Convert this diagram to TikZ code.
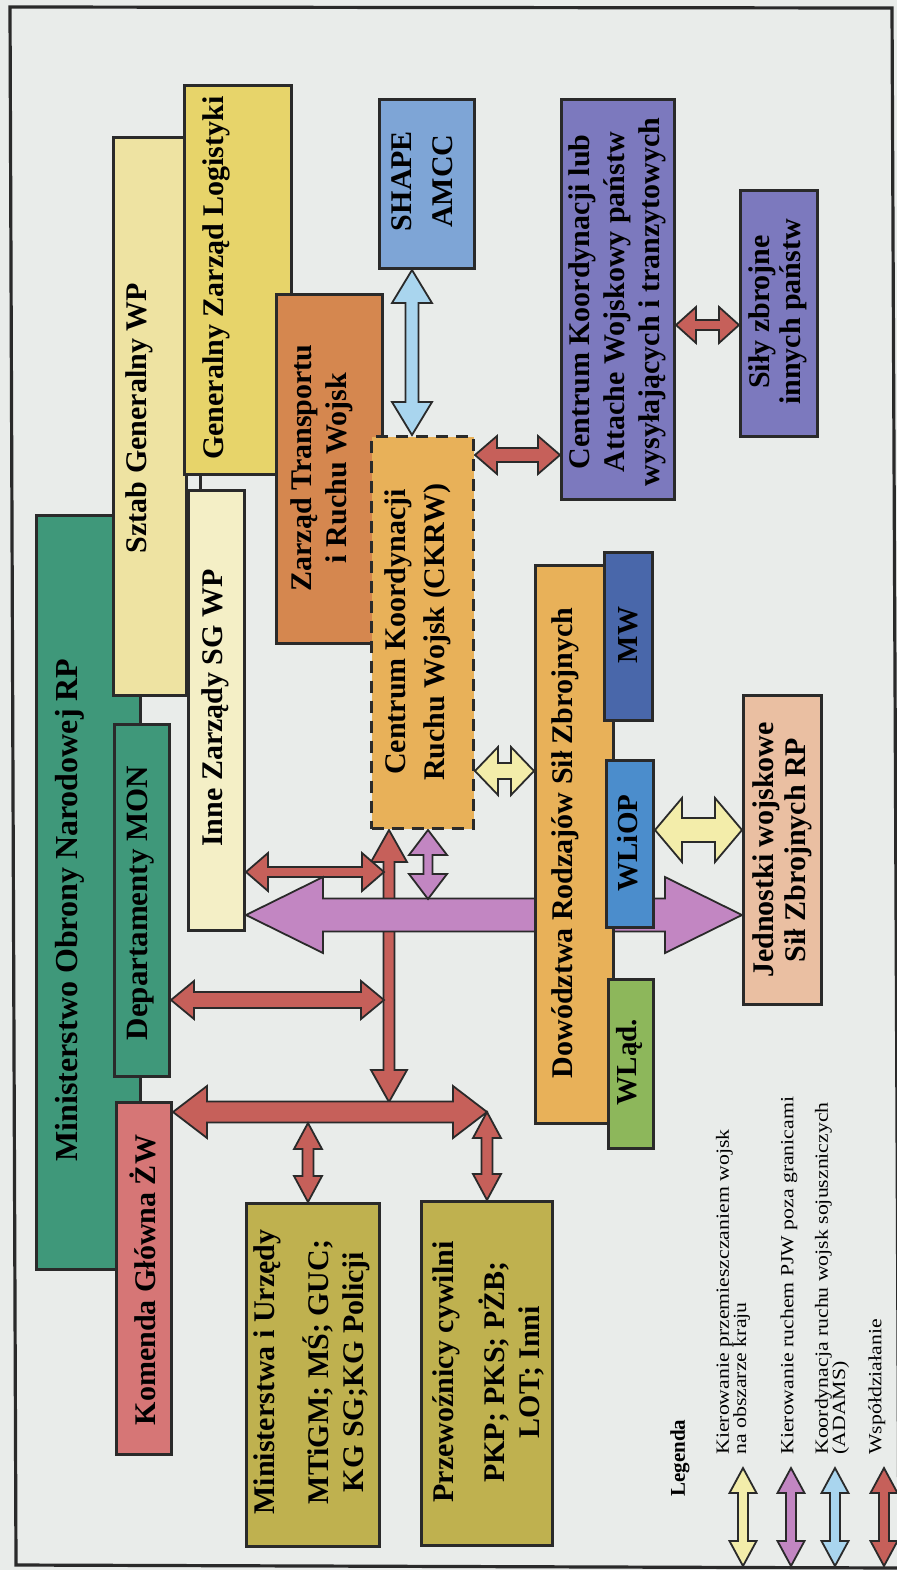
\documentclass[tikz,border=0pt]{standalone}
\usepackage{fontspec}
\setmainfont{Liberation Serif}
\newfontfamily\legendfont[FakeStretch=1.17]{Liberation Serif}
\usetikzlibrary{calc,backgrounds}
\definecolor{paper}{HTML}{E9ECEA}
\definecolor{ink}{HTML}{2A2A2A}
\definecolor{mongreen}{HTML}{3F987A}
\definecolor{kgzwpink}{HTML}{D67676}
\definecolor{sztabyel}{HTML}{EEE3A2}
\definecolor{gzlyel}{HTML}{E7D46A}
\definecolor{innecream}{HTML}{F4EFC6}
\definecolor{ztrorange}{HTML}{D5874F}
\definecolor{ckrworange}{HTML}{E8B159}
\definecolor{shapeblue}{HTML}{7EA5D6}
\definecolor{attpurple}{HTML}{7C79BE}
\definecolor{mwblue}{HTML}{4967AA}
\definecolor{wliopblue}{HTML}{4B8DCC}
\definecolor{wladgreen}{HTML}{8DB75B}
\definecolor{jedpeach}{HTML}{EABFA2}
\definecolor{minolive}{HTML}{BFB14F}
\definecolor{redar}{HTML}{C6605A}
\definecolor{purplear}{HTML}{C286C2}
\definecolor{yellowar}{HTML}{F3EDAA}
\definecolor{bluear}{HTML}{A9D5EE}
\tikzset{
  box/.style={
    rectangle, draw=ink, fill=#1, line width=1.5pt,
    inner sep=0pt, anchor=north west
  },
  boxtext/.style={
    rotate=90, align=center, inner sep=0pt, text=black,
    font=\bfseries\fontsize{15}{#1}\selectfont
  },
  boxtext/.default=17.5,
  legtext/.style={
    rotate=90, align=left, anchor=west, inner sep=0pt,
    font=\legendfont\fontsize{9.3}{8.6}\selectfont
  },
  % fill colour, shaft half width, head half width, head length
  blockarrow/.style n args={4}{
    fill=#1, draw=ink, line width=0.9pt,
    to path={
      let \p1=(\tikztostart), \p2=(\tikztotarget),
          \n1={veclen(\x2-\x1,\y2-\y1)},
          \n2={(\x2-\x1)/\n1}, \n3={(\y2-\y1)/\n1}
      in (\p1)
      -- ({\x1+#4*(\n2)-#3*(\n3)},{\y1+#4*(\n3)+#3*(\n2)})
      -- ({\x1+#4*(\n2)-#2*(\n3)},{\y1+#4*(\n3)+#2*(\n2)})
      -- ({\x2-#4*(\n2)-#2*(\n3)},{\y2-#4*(\n3)+#2*(\n2)})
      -- ({\x2-#4*(\n2)-#3*(\n3)},{\y2-#4*(\n3)+#3*(\n2)})
      -- (\p2)
      -- ({\x2-#4*(\n2)+#3*(\n3)},{\y2-#4*(\n3)-#3*(\n2)})
      -- ({\x2-#4*(\n2)+#2*(\n3)},{\y2-#4*(\n3)-#2*(\n2)})
      -- ({\x1+#4*(\n2)+#2*(\n3)},{\y1+#4*(\n3)-#2*(\n2)})
      -- ({\x1+#4*(\n2)+#3*(\n3)},{\y1+#4*(\n3)-#3*(\n2)})
      -- cycle
    }
  },
}
\begin{document}
\begin{tikzpicture}[x=0.5pt, y=-0.5pt]
  \useasboundingbox (0,0) rectangle (897,1570);
  \begin{scope}[on background layer]
    \fill[paper] (0,0) rectangle (897,1570);
  \end{scope}
  % Frame (slightly skewed, as scanned)
  \draw[ink, line width=1.6pt] (10,7) -- (892,8) -- (899,1568) -- (16,1565) -- cycle;

  % Ministry and General Staff
  \node[box=mongreen, minimum width=52pt, minimum height=377pt] (mon) at (35,514) {};
  \node[box=sztabyel, minimum width=36.5pt, minimum height=279pt] (sztab) at (112,136) {};
  \node[box=gzlyel, minimum width=53.5pt, minimum height=194.5pt] (gzl) at (183,84) {};
  \node[box=innecream, minimum width=28pt, minimum height=220pt] (inne) at (187,489) {};
  \node[box=mongreen, minimum width=27.5pt, minimum height=176pt] (dep) at (113,723) {};
  \node[box=kgzwpink, minimum width=27.5pt, minimum height=176pt] (kgzw) at (115,1101) {};
  \coordinate (stub) at (200,0);
  \draw[ink, line width=1.5pt] (gzl.south -| stub) -- (inne.north -| stub);

  % Coordination centres
  \node[box=ztrorange, minimum width=53pt, minimum height=174.5pt] (ztr) at (275,293) {};
  \node[box=ckrworange, dash pattern=on 6pt off 4pt, minimum width=51pt, minimum height=196pt] (ckrw) at (370,435) {};
  \node[box=shapeblue, minimum width=47.5pt, minimum height=84.5pt] (shape) at (378,98) {};
  \node[box=attpurple, minimum width=56.5pt, minimum height=200pt] (att) at (560,98) {};
  \node[box=attpurple, minimum width=38.5pt, minimum height=123pt] (sily) at (739,189) {};

  % Branches
  \node[box=ckrworange, minimum width=39pt, minimum height=279pt] (dow) at (534,564) {};
  \node[box=mwblue, minimum width=24pt, minimum height=84pt] (mw) at (603,551) {};
  \node[box=wliopblue, minimum width=23.5pt, minimum height=83.5pt] (wliop) at (605,759) {};
  \node[box=wladgreen, minimum width=22.5pt, minimum height=84.5pt] (wlad) at (607,978) {};
  \node[box=jedpeach, minimum width=39pt, minimum height=154.5pt] (jed) at (742,694) {};

  % Civil partners
  \node[box=minolive, minimum width=66.5pt, minimum height=171.5pt] (min) at (245,1202) {};
  \node[box=minolive, minimum width=65.5pt, minimum height=172pt] (prz) at (420,1200) {};

  % Labels
  \node[boxtext, font=\bfseries\fontsize{16}{19}\selectfont] (monT) at (70,910) {Ministerstwo Obrony Narodowej RP};
  \node[boxtext, font=\bfseries\fontsize{15.5}{18}\selectfont] (depT) at (141,903) {Departamenty MON};
  \node[boxtext] (kgzwT) at (143,1280) {Komenda Główna ŻW};
  \node[boxtext] (sztabT) at (139,418) {Sztab Generalny WP};
  \node[boxtext] (gzlT) at (216,278) {Generalny Zarząd Logistyki};
  \node[boxtext] (inneT) at (215,708) {Inne Zarządy SG WP};
  \node[boxtext] (ztrT) at (322,468) {Zarząd Transportu\\i Ruchu Wojsk};
  \node[boxtext=20.5] (shapeT) at (422,181) {SHAPE\\AMCC};
  \node[boxtext=19.5] (ckrwT) at (418,632) {Centrum Koordynacji\\Ruchu Wojsk (CKRW)};
  \node[boxtext] (attT) at (617,302) {Centrum Koordynacji lub\\Attache Wojskowy państw\\wysyłających i tranzytowych};
  \node[boxtext=15.5] (silyT) at (778,312) {Siły zbrojne\\innych państw};
  \node[boxtext] (dowT) at (565,843) {Dowództwa Rodzajów Sił Zbrojnych};
  \node[boxtext, font=\bfseries\fontsize{14.5}{17}\selectfont] (mwT) at (628,635) {MW};
  \node[boxtext, font=\bfseries\fontsize{14.5}{17}\selectfont] (wliopT) at (628,843) {WLiOP};
  \node[boxtext, font=\bfseries\fontsize{14.5}{17}\selectfont] (wladT) at (629,1062) {WLąd.};
  \node[boxtext=16] (jedT) at (782,850) {Jednostki wojskowe\\Sił Zbrojnych RP};
  \node[boxtext] (minT) at (312,1372) {Ministerstwa i Urzędy\\[9.5pt]MTiGM; MŚ; GUC;\\KG SG;KG Policji};
  \node[boxtext] (przT) at (488,1372) {Przewoźnicy cywilni\\[8pt]PKP; PKS; PŻB;\\LOT; Inni};

  % Legend
  \node[boxtext, font=\bfseries\fontsize{10.5}{12}\selectfont] (legT) at (680,1458) {Legenda};
  \node[legtext] (legA) at (733,1455) {Kierowanie przemieszczaniem wojsk\\na obszarze kraju};
  \node[legtext] (legB) at (789,1455) {Kierowanie ruchem PJW poza granicami};
  \node[legtext] (legC) at (832,1455) {Koordynacja ruchu wojsk sojuszniczych\\(ADAMS)};
  \node[legtext] (legD) at (877,1455) {Współdziałanie};

  % Guide points for the connectors
  \coordinate (gBlue) at (412,0);
  \coordinate (gAtt) at (0,455);
  \coordinate (gSily) at (0,325);
  \coordinate (gDow) at (0,771);
  \coordinate (gJed) at (0,830);
  \coordinate (gPur) at (0,915);
  \coordinate (gPs) at (428,899);
  \coordinate (hubTop) at (389,1102);
  \coordinate (gInne) at (384,872);
  \coordinate (gDep) at (384,1000);
  \coordinate (barR) at (487,1112);
  \coordinate (gMin) at (308,1123);

  \begin{scope}[on background layer]
    % Red hub
    \draw[blockarrow={redar}{2.75pt}{9pt}{16pt}] (ckrw.south -| hubTop) to (hubTop);
    \draw[blockarrow={redar}{2.5pt}{9.5pt}{11pt}] (inne.east |- gInne) to (gInne);
    \draw[blockarrow={redar}{4pt}{9.5pt}{11.5pt}] (dep.east |- gDep) to (gDep);
    \draw[blockarrow={redar}{5.25pt}{13pt}{17pt}] (kgzw.east |- barR) to (barR);
    \draw[blockarrow={redar}{2.75pt}{7pt}{13pt}] (gMin) to (min.north -| gMin);
    \draw[blockarrow={redar}{2.75pt}{7pt}{13pt}] (barR) to (prz.north -| barR);
    % Purple
    \draw[blockarrow={purplear}{8.25pt}{19pt}{38.5pt}] (inne.east |- gPur) to (jed.west |- gPur);
    \draw[blockarrow={purplear}{2.25pt}{9.5pt}{12.5pt}] (ckrw.south -| gPs) to (gPs);
    % Others
    \draw[blockarrow={bluear}{3.25pt}{10pt}{16.5pt}] (shape.south -| gBlue) to (ckrw.north -| gBlue);
    \draw[blockarrow={redar}{3.5pt}{9.5pt}{11pt}] (ckrw.east |- gAtt) to (att.west |- gAtt);
    \draw[blockarrow={redar}{2.5pt}{9pt}{10pt}] (att.east |- gSily) to (sily.west |- gSily);
    \draw[blockarrow={yellowar}{4pt}{12pt}{11.5pt}] (ckrw.east |- gDow) to (dow.west |- gDow);
    \draw[blockarrow={yellowar}{6pt}{16pt}{13.5pt}] (wliop.east |- gJed) to (jed.west |- gJed);
    % Legend arrows
    \draw[blockarrow={yellowar}{2.5pt}{6.75pt}{12.5pt}] (743,1468) to (743,1566);
    \draw[blockarrow={purplear}{2.5pt}{6.75pt}{12.5pt}] (791,1468) to (791,1566);
    \draw[blockarrow={bluear}{2.5pt}{6.75pt}{12.5pt}] (835,1468) to (835,1566);
    \draw[blockarrow={redar}{2.5pt}{6.75pt}{12.5pt}] (884,1468) to (884,1566);
  \end{scope}
\end{tikzpicture}
\end{document}
